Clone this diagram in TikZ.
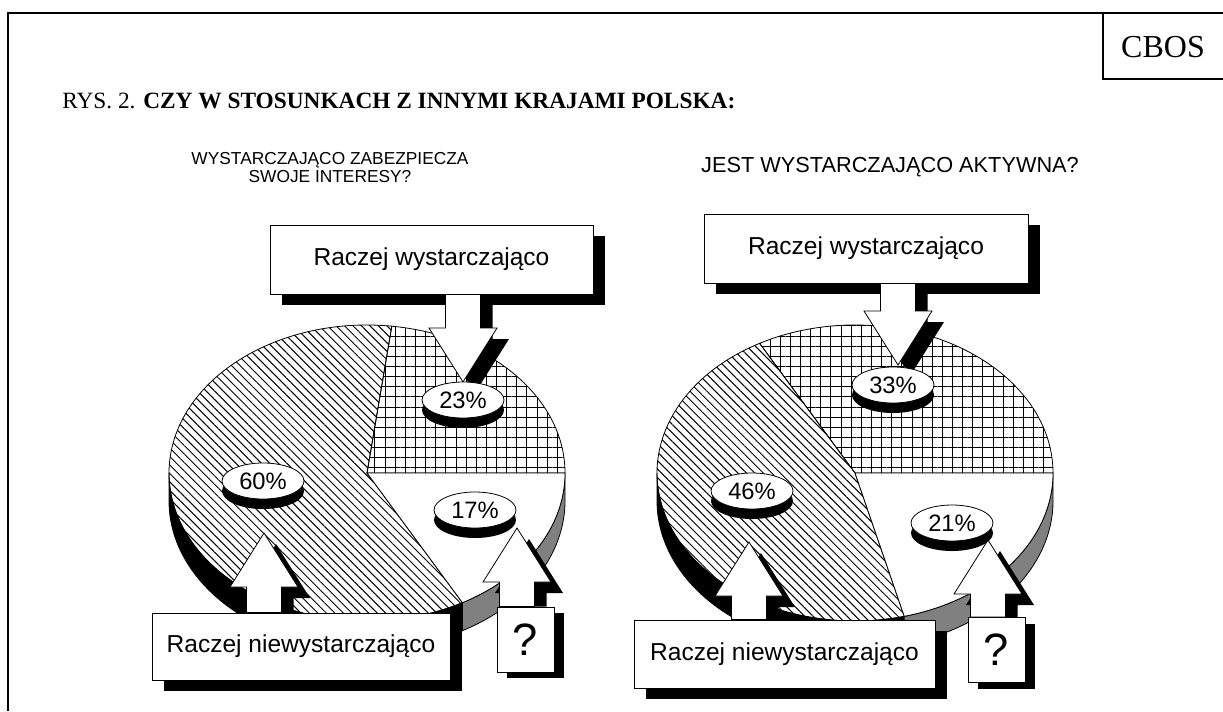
\documentclass[tikz,border=0pt]{standalone}
\usepackage{fontspec}
\setmainfont{Liberation Serif}
\newfontfamily\arial{Liberation Sans}
\usetikzlibrary{calc,shapes.geometric,shadows,patterns.meta}

\definecolor{sidegray}{gray}{0.5}

\tikzset{
  lblbox/.style={draw, fill=white, line width=0.6pt, inner sep=0pt,
    font=\arial\fontsize{18.4}{22}\selectfont,
    general shadow={fill=black, shadow xshift=9pt, shadow yshift=-8.25pt}},
  qbox/.style={draw, fill=white, line width=0.6pt, inner sep=0pt,
    minimum width=42.75pt, minimum height=48.75pt,
    font=\arial\fontsize{34}{40}\selectfont,
    general shadow={fill=black, shadow xshift=7.5pt, shadow yshift=-4.5pt}},
  pctlbl/.style={ellipse, draw, fill=white, line width=0.6pt, inner sep=0pt,
    minimum width=61.5pt, minimum height=27pt,
    font=\arial\fontsize{17.8}{20}\selectfont,
    general shadow={fill=black, shadow yshift=-7.5pt}},
  subttl/.style={align=center, inner sep=0pt},
  hatchfill/.style={pattern={Lines[angle=-45,distance=4.5pt,line width=0.75pt]}},
  gridfill/.style={pattern={Hatch[angle=0,distance=7.6pt,line width=0.75pt]}},
  pieline/.style={line width=0.6pt},
}

% block arrow with shadow: #1 box anchor, #2 tip, #3 = 1 down / -1 up
\newcommand{\blockarrow}[3]{%
  \fill[black] ($(#2)+(12,-11)$) -- ++(34,{54*(#3)}) -- ++(-16.5,0)
    -- ($(#2 |- #1)+(29.5,0)$) -- ($(#2 |- #1)+(-5.5,0)$)
    -- ($(#2)+(-5.5,{54*(#3)-11})$) -- ++(-16.5,0) -- cycle;
  \filldraw[fill=white, line width=0.6pt] (#2) -- ++(34,{54*(#3)}) -- ++(-16.5,0)
    -- ($(#2 |- #1)+(17.5,0)$) -- ($(#2 |- #1)+(-17.5,0)$)
    -- ($(#2)+(-17.5,{54*(#3)})$) -- ++(-16.5,0) -- cycle;
}

\begin{document}
\begin{tikzpicture}[x=0.75pt, y=0.75pt]
  \useasboundingbox (0,0) rectangle (1223,-711);

  % frame and headings
  \draw[line width=1.5pt] (8,-711) -- (8,-13) -- (1223,-13);
  \draw[line width=1.5pt] (1103,-13) -- (1103,-79) -- (1223,-79);
  \node[font=\fontsize{24}{28}\selectfont, anchor=base] (cbos) at (1163,-57) {CBOS};
  \node[font=\fontsize{17.5}{20}\selectfont, anchor=base west, inner sep=0pt] (title) at (62,-108)
    {RYS. 2. \textbf{CZY W STOSUNKACH Z INNYMI KRAJAMI POLSKA:}};
  \node[subttl, font=\arial\fontsize{13}{13.5}\selectfont, anchor=north] (subL) at (330,-152)
    {WYSTARCZAJĄCO ZABEZPIECZA\\SWOJE INTERESY?};
  \node[subttl, font=\arial\fontsize{16.3}{18}\selectfont, anchor=north] (subR) at (890,-157)
    {JEST WYSTARCZAJĄCO AKTYWNA?};

  % left pie
  \begin{scope}[shift={(367,-473)}, x radius=198, y radius=148]
    \filldraw[pieline, fill=black] (180:198 and 148) arc[start angle=180, end angle=298.8]
      -- ++(0,-28) arc[start angle=298.8, end angle=180] -- cycle;
    \filldraw[pieline, fill=sidegray] (298.8:198 and 148) arc[start angle=298.8, end angle=360]
      -- ++(0,-28) arc[start angle=360, end angle=298.8] -- cycle;
    \draw[pieline, gridfill] (0,0) -- (0:198 and 148) arc[start angle=0, end angle=82.8] -- cycle;
    \draw[pieline, hatchfill] (0,0) -- (82.8:198 and 148) arc[start angle=82.8, end angle=298.8] -- cycle;
    \filldraw[pieline, fill=white] (0,0) -- (298.8:198 and 148) arc[start angle=298.8, end angle=360] -- cycle;
  \end{scope}

  % right pie
  \begin{scope}[shift={(855,-473)}, x radius=198, y radius=148]
    \filldraw[pieline, fill=black] (180:198 and 148) arc[start angle=180, end angle=284.4]
      -- ++(0,-28) arc[start angle=284.4, end angle=180] -- cycle;
    \filldraw[pieline, fill=sidegray] (284.4:198 and 148) arc[start angle=284.4, end angle=360]
      -- ++(0,-28) arc[start angle=360, end angle=284.4] -- cycle;
    \draw[pieline, gridfill] (0,0) -- (0:198 and 148) arc[start angle=0, end angle=118.8] -- cycle;
    \draw[pieline, hatchfill] (0,0) -- (118.8:198 and 148) arc[start angle=118.8, end angle=284.4] -- cycle;
    \filldraw[pieline, fill=white] (0,0) -- (284.4:198 and 148) arc[start angle=284.4, end angle=360] -- cycle;
  \end{scope}

  % answer boxes
  \node[lblbox, minimum width=242.25pt, minimum height=51.75pt] (hiL) at (431.5,-259.5) {Raczej wystarczająco};
  \node[lblbox, minimum width=243pt, minimum height=51.75pt] (hiR) at (866,-248.5) {Raczej wystarczająco};
  \node[lblbox, minimum width=223.5pt, minimum height=50.25pt] (loL) at (301,-646.5) {Raczej niewystarczająco};
  \node[lblbox, minimum width=225.75pt, minimum height=51pt] (loR) at (784.5,-654) {Raczej niewystarczająco};
  \node[qbox] (qL) at (525.5,-639.5) {?};
  \node[qbox] (qR) at (996.5,-650) {?};

  % arrow tips
  \coordinate (t23) at (463,-382);
  \coordinate (t60) at (264,-533);
  \coordinate (t17) at (517,-528);
  \coordinate (t33) at (898,-365);
  \coordinate (t46) at (749,-542);
  \coordinate (t21) at (988,-540);

  \blockarrow{hiL.south}{t23}{1}
  \blockarrow{loL.north}{t60}{-1}
  \blockarrow{qL.north}{t17}{-1}
  \blockarrow{hiR.south}{t33}{1}
  \blockarrow{loR.north}{t46}{-1}
  \blockarrow{qR.north}{t21}{-1}

  % percent labels
  \node[pctlbl] (p23) at (463,-400) {23\%};
  \node[pctlbl] (p60) at (263,-481) {60\%};
  \node[pctlbl] (p17) at (475,-510) {17\%};
  \node[pctlbl] (p33) at (893,-385) {33\%};
  \node[pctlbl] (p46) at (752,-491) {46\%};
  \node[pctlbl] (p21) at (952,-523) {21\%};
\end{tikzpicture}
\end{document}
